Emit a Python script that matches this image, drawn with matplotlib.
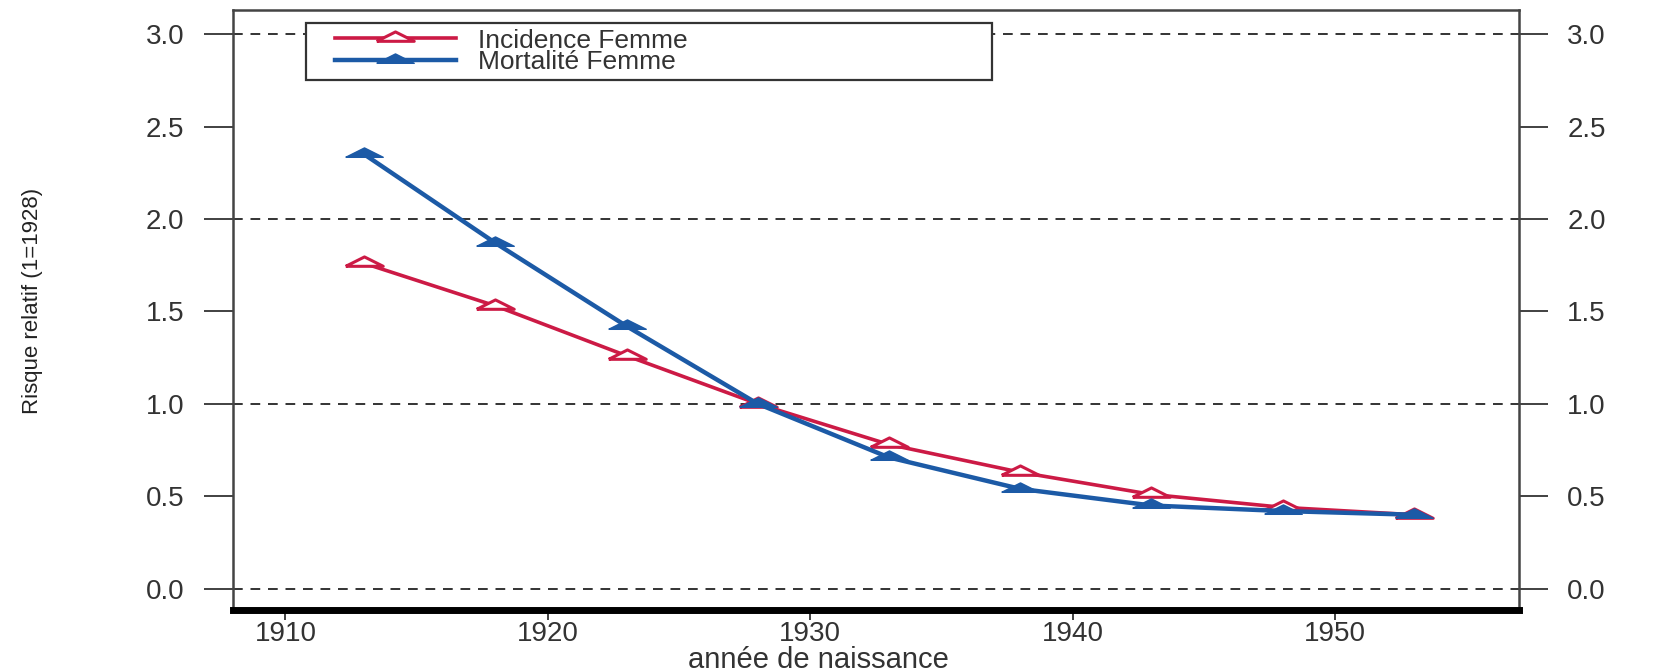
import numpy as np
import matplotlib
matplotlib.use("Agg")
import matplotlib.pyplot as plt
from matplotlib.patches import Rectangle

annees = [1913, 1918, 1923, 1928, 1933, 1938, 1943, 1948, 1953]
incidence = [1.76, 1.53, 1.26, 1.00, 0.78, 0.63, 0.51, 0.44, 0.40]
mortalite = [2.35, 1.87, 1.42, 1.00, 0.71, 0.54, 0.45, 0.42, 0.40]
y_ticks = [0.0, 0.5, 1.0, 1.5, 2.0, 2.5, 3.0]
x_ticks = [1910, 1920, 1930, 1940, 1950]

plt.rcParams['font.family'] = ['Liberation Sans', 'DejaVu Sans']

rouge = '#cc1a45'
bleu = '#1c5aa6'
gris = '#333333'
# triangle aplati, comme dans l'original
tri = [(-1.0, -0.15), (1.0, -0.15), (0.0, 0.35), (-1.0, -0.15)]

fig = plt.figure(figsize=(16.58, 6.71), dpi=100)
ax = fig.add_axes([0.1405, 0.091, 0.7755, 0.894])

for y in [0.0, 1.0, 2.0, 3.0]:
    ax.axhline(y, color=gris, lw=1.4, ls=(0, (5, 4)), zorder=1)

ax.plot(annees, incidence, color=rouge, lw=2.6, marker=tri, ms=27,
        mfc='white', mec=rouge, mew=2.2, label='Incidence Femme', zorder=3)
ax.plot(annees, mortalite, color=bleu, lw=3.2, marker=tri, ms=27,
        mfc=bleu, mec=bleu, mew=1, label='Mortalité Femme', zorder=4)

ax.set_xlim(1908, 1957)
ax.set_ylim(-0.115, 3.13)
ax.set_xticks(x_ticks)
ax.set_yticks(y_ticks)
ax.set_yticklabels(['%.1f' % v for v in y_ticks])

ax.tick_params(axis='y', which='both', left=True, right=True, labelleft=True,
               labelright=True, direction='out', length=21, width=1.3,
               color=gris, labelsize=20, pad=14, labelcolor=gris)
ax.tick_params(axis='x', direction='out', length=7, width=1.3, color=gris,
               labelsize=20, pad=1, labelcolor=gris)

for s in ['left', 'right', 'top']:
    ax.spines[s].set_linewidth(1.8)
    ax.spines[s].set_color('#444444')
ax.spines['bottom'].set_linewidth(5)
ax.spines['bottom'].set_color('black')

ax.set_xlabel('année de naissance', fontsize=21, color=gris, va='center')
ax.xaxis.set_label_coords(0.455, -0.083)
ax.set_ylabel('Risque relatif (1=1928)', fontsize=16, color='#222222', va='center')
ax.yaxis.set_label_coords(-0.156, 0.515)

# cadre de la légende
ax.add_patch(Rectangle((0.057, 0.883), 0.533, 0.095, transform=ax.transAxes,
                       facecolor='white', edgecolor=gris, lw=1.6,
                       clip_on=False, zorder=5))
leg = ax.legend(loc='upper left', bbox_to_anchor=(0.079, 0.969),
                fontsize=19, frameon=False, borderpad=0, labelspacing=-0.1,
                handlelength=4.6, handletextpad=0.85, borderaxespad=0)
leg.set_zorder(6)
for t in leg.get_texts():
    t.set_color(gris)

fig.savefig('out.png', dpi=100)
